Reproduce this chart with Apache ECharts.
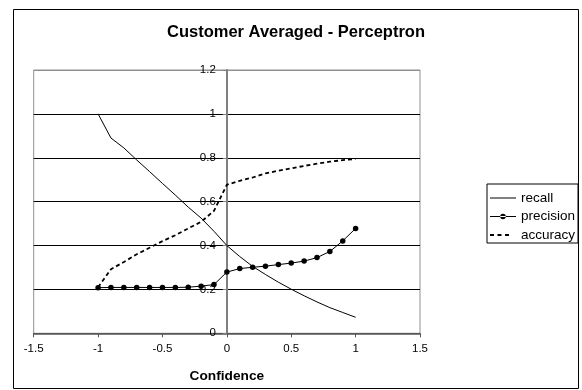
<!DOCTYPE html>
<html>
<head>
<meta charset="utf-8">
<script src="https://cdn.jsdelivr.net/npm/echarts@6/dist/echarts.min.js"></script>
<style>
  html, body { margin: 0; padding: 0; background: #fff; }
  #chart { width: 582px; height: 390px; }
</style>
</head>
<body>
<div id="chart"></div>
<script>
// Confidence threshold values (x)
var confidence = [-1.0, -0.9, -0.8, -0.7, -0.6, -0.5, -0.4, -0.3, -0.2, -0.1, 0.0,
                  0.1, 0.2, 0.3, 0.4, 0.5, 0.6, 0.7, 0.8, 0.9, 1.0];

var recall = [1.0, 0.89, 0.845, 0.79, 0.737, 0.683, 0.63, 0.575, 0.525, 0.465, 0.40,
              0.35, 0.305, 0.268, 0.233, 0.201, 0.171, 0.143, 0.117, 0.095, 0.073];

var precision = [0.208, 0.209, 0.209, 0.209, 0.209, 0.209, 0.209, 0.21, 0.215, 0.222, 0.279,
                 0.295, 0.301, 0.306, 0.313, 0.32, 0.329, 0.345, 0.373, 0.421, 0.478];

var accuracy = [0.21, 0.292, 0.325, 0.36, 0.39, 0.42, 0.447, 0.478, 0.508, 0.558, 0.677,
                0.695, 0.71, 0.729, 0.741, 0.752, 0.763, 0.773, 0.782, 0.789, 0.795];

var xTicks = { min: -1.5, max: 1.5, step: 0.5 };
var yTicks = { min: 0, max: 1.2, step: 0.2 };

function pairs(ys) {
  return confidence.map(function (x, i) { return [x, ys[i]]; });
}

var FONT = '"Liberation Sans", Arial, sans-serif';

// plot rectangle
var GRID_LEFT = 33.7, GRID_RIGHT = 162, GRID_TOP = 70, GRID_BOTTOM = 56.7;
var plotWidth = 582 - GRID_LEFT - GRID_RIGHT;
// shift the value axis so it sits on x = 0
var yAxisShift = -plotWidth * (0 - xTicks.min) / (xTicks.max - xTicks.min);

// legend keys: a 26x14 box (corner moveTos fix the extent) with line / marker / dashes
var KEY_BOX = 'M0,0M26,14';
var KEY_LINE = 'M0,6.5H26V7.5H0Z';
var KEY_DOT = 'M10.2,7a2.8,2.8 0 1,0 5.6,0a2.8,2.8 0 1,0 -5.6,0Z';
var KEY_DASH = 'M0,6H4V8H0Z M7.5,6H11.5V8H7.5Z M15,6H19V8H15Z';

var chart = echarts.init(document.getElementById('chart'), null, { renderer: 'canvas' });

chart.setOption({
  backgroundColor: '#ffffff',
  animation: false,
  title: {
    text: 'Customer Averaged - Perceptron',
    left: 167,
    top: 24,
    padding: 0,
    textStyle: { fontFamily: FONT, fontSize: 16.5, fontWeight: 'bold', color: '#000', lineHeight: 17 }
  },
  graphic: [{
    type: 'rect',
    shape: { x: 13.5, y: 9.5, width: 565, height: 379 },
    style: { fill: 'none', stroke: '#000', lineWidth: 1 },
    silent: true,
    z: 100
  }],
  legend: {
    orient: 'vertical',
    left: 487,
    top: 184,
    padding: [7, 3, 1, 3],
    itemWidth: 26,
    itemHeight: 14,
    itemGap: 4.5,
    borderColor: '#000',
    borderWidth: 1,
    itemStyle: { color: '#000', borderWidth: 0 },
    textStyle: { fontFamily: FONT, fontSize: 13.5, color: '#000', lineHeight: 14 },
    data: [
      { name: 'recall', icon: 'path://' + KEY_BOX + KEY_LINE },
      { name: 'precision', icon: 'path://' + KEY_BOX + KEY_LINE + KEY_DOT },
      { name: 'accuracy', icon: 'path://' + KEY_BOX + KEY_DASH }
    ]
  },
  grid: {
    left: GRID_LEFT,
    right: GRID_RIGHT,
    top: GRID_TOP,
    bottom: GRID_BOTTOM,
    show: true,
    borderColor: '#909090',
    borderWidth: 1,
    backgroundColor: 'transparent'
  },
  xAxis: {
    type: 'value',
    min: xTicks.min,
    max: xTicks.max,
    interval: xTicks.step,
    name: 'Confidence',
    nameLocation: 'middle',
    nameGap: 36,
    nameTextStyle: { fontFamily: FONT, fontSize: 13.7, fontWeight: 'bold', color: '#000' },
    axisLine: { onZero: false, lineStyle: { color: '#555', width: 1.5 } },
    axisTick: { show: true, inside: false, length: 4, lineStyle: { color: '#555' } },
    axisLabel: { fontFamily: FONT, fontSize: 11.5, color: '#000', margin: 10 },
    splitLine: { show: false }
  },
  yAxis: {
    type: 'value',
    min: yTicks.min,
    max: yTicks.max,
    interval: yTicks.step,
    offset: yAxisShift,
    axisLine: { show: true, onZero: false, lineStyle: { color: '#808080', width: 2 } },
    axisTick: { show: true, inside: false, length: 4, lineStyle: { color: '#808080' } },
    axisLabel: { fontFamily: FONT, fontSize: 11.5, color: '#000', margin: 11 },
    splitLine: {
      show: true,
      lineStyle: { color: ['#555', '#000', '#000', '#000', '#000', '#000', '#909090'], width: 1 }
    }
  },
  series: [
    {
      name: 'recall',
      type: 'line',
      data: pairs(recall),
      symbol: 'none',
      lineStyle: { color: '#000', width: 1 },
      itemStyle: { color: '#000' }
    },
    {
      name: 'precision',
      type: 'line',
      data: pairs(precision),
      symbol: 'circle',
      symbolSize: 5.5,
      showSymbol: true,
      lineStyle: { color: '#000', width: 1 },
      itemStyle: { color: '#000' }
    },
    {
      name: 'accuracy',
      type: 'line',
      data: pairs(accuracy),
      symbol: 'none',
      lineStyle: { color: '#000', width: 1.8, type: [4, 3] },
      itemStyle: { color: '#000' }
    }
  ]
});
</script>
</body>
</html>
